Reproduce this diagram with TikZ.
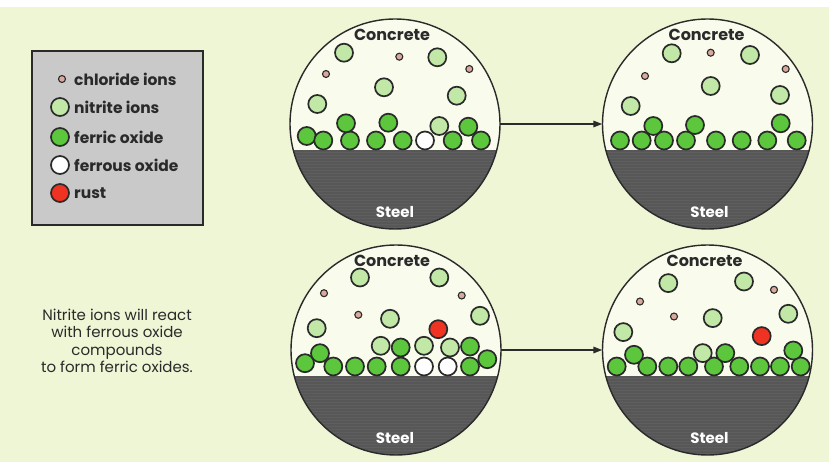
\documentclass[tikz,border=0pt]{standalone}
\usepackage{fontspec}
\setmainfont{Poppins}
\usetikzlibrary{arrows.meta}

\definecolor{paper}{HTML}{EEF6D6}
\definecolor{lens}{HTML}{F9FCEC}
\definecolor{steelgray}{HTML}{575757}
\definecolor{steelline}{HTML}{656565}
\definecolor{ink}{HTML}{2A2A2A}
\definecolor{ferricG}{HTML}{5CC63C}
\definecolor{nitriteG}{HTML}{C2E8A8}
\definecolor{rustR}{HTML}{EE3322}
\definecolor{chlorP}{HTML}{D9A99B}
\definecolor{legendgray}{HTML}{C9C9C9}

\tikzset{
  ball/.style={circle, draw=ink, line width=1.7pt, minimum size=18pt, inner sep=0pt},
  ferric/.style={ball, fill=ferricG},
  nitrite/.style={ball, fill=nitriteG},
  ferrous/.style={ball, fill=white},
  rust/.style={ball, fill=rustR},
  chloride/.style={circle, draw=ink, line width=1.1pt, minimum size=7pt, inner sep=0pt, fill=chlorP},
  lensc/.style={circle, minimum size=210pt, inner sep=0pt, fill=lens},
  rim/.style={draw=ink, line width=1.4pt},
  concrete/.style={font=\fontsize{16}{16}\selectfont\bfseries, text=ink, inner sep=0pt},
  steellbl/.style={font=\fontsize{15}{15}\selectfont\bfseries, text=white, inner sep=0pt},
  legtext/.style={anchor=west, font=\fontsize{15.5}{15.5}\selectfont\bfseries, text=ink, inner sep=0pt},
  caption/.style={align=center, font=\fontsize{15}{17.3}\selectfont, text=ink, inner sep=0pt},
  flow/.style={draw=ink, line width=1.5pt, -{Triangle[length=9pt,width=6.5pt]}},
}

% steel bar clipped to the lens, then the rim on top
\newcommand{\steelcut}[1]{%
  \begin{scope}
    \clip (#1.center) circle[radius=105pt];
    \fill[steelgray] (-110,26) rectangle (110,110);
    \foreach \k in {0,...,26} {\draw[steelline, line width=0.6pt, opacity=0.5] (-110,28+3*\k) -- (110,28+3*\k);}
  \end{scope}
  \draw[rim] (#1.center) circle[radius=105pt];
}

\begin{document}
\begin{tikzpicture}[x=1pt, y=-1pt]
\useasboundingbox (0,0) rectangle (829,462);
\fill[paper] (0,0) rectangle (829,462);
\fill[white] (0,0) rectangle (829,7);

% ---------- legend ----------
\node[draw=ink, line width=2pt, fill=legendgray, minimum width=171pt, minimum height=174pt, inner sep=0pt, anchor=north west] (legend) at (31,50) {};
\node[chloride] (lgc) at (62,79) {};
\node[legtext] (lgct) at (74,79) {chloride ions};
\node[nitrite] (lgn) at (60,107) {};
\node[legtext] (lgnt) at (74,107) {nitrite ions};
\node[ferric] (lgf) at (60,137) {};
\node[legtext] (lgft) at (74,137) {ferric oxide};
\node[ferrous] (lgw) at (60,165) {};
\node[legtext] (lgwt) at (74,165) {ferrous oxide};
\node[rust] (lgr) at (60,193) {};
\node[legtext] (lgrt) at (74,193) {rust};

% ---------- caption ----------
\node[caption] (cap) at (117,341) {Nitrite ions will react\\with ferrous oxide\\compounds\\to form ferric oxides.};

% ---------- top left ----------
\begin{scope}[shift={(395,124)}]
  \node[lensc] (tl) at (0,0) {};
  \steelcut{tl}
  \node[concrete] (tlcon) at (-3,-89) {Concrete};
  \node[steellbl] (tlst) at (0,88) {Steel};
  \foreach \x/\y [count=\i] in {-88.3/12, -71.7/16.5, -45/16.5, -19/16.5, 7.7/16.5, 57.7/16.5, 86/16.5,
                                -49/-0.7, -6.7/-1.3, 73.3/2.7}
    \node[ferric] (tlf\i) at (\x,\y) {};
  \node[ferrous] (tlw1) at (30,16.5) {};
  \foreach \x/\y [count=\i] in {44.3/2, -77.7/-20, -11/-36.7, 61.7/-28.3, -51/-71.3, 42.3/-66.7}
    \node[nitrite] (tln\i) at (\x,\y) {};
  \foreach \x/\y [count=\i] in {-69/-50, 4.3/-67.3, 74.3/-55}
    \node[chloride] (tlc\i) at (\x,\y) {};
\end{scope}

% ---------- top right ----------
\begin{scope}[shift={(707.5,124)}]
  \node[lensc] (tr) at (0,0) {};
  \steelcut{tr}
  \node[concrete] (trcon) at (-1,-89) {Concrete};
  \node[steellbl] (trst) at (2,88) {Steel};
  \foreach \x/\y [count=\i] in {-87.5/16.5, -65.8/16.5, -43.5/16.5, -21.5/16.5, 8.5/16.5, 34.2/16.5, 59.8/16.5, 89.2/16.5,
                                -54.2/2, -12.5/1, 73.2/-0.7}
    \node[ferric] (trf\i) at (\x,\y) {};
  \foreach \x/\y [count=\i] in {-76.8/-18, -35.8/-70.7, 3.2/-38, 42.5/-69, 72.5/-29}
    \node[nitrite] (trn\i) at (\x,\y) {};
  \foreach \x/\y [count=\i] in {-62.5/-48, 3.2/-71.3, 78.2/-55}
    \node[chloride] (trc\i) at (\x,\y) {};
\end{scope}

% ---------- bottom left ----------
\begin{scope}[shift={(396,350)}]
  \node[lensc] (bl) at (0,0) {};
  \steelcut{bl}
  \node[concrete] (blcon) at (-4,-89) {Concrete};
  \node[steellbl] (blst) at (-1,88) {Steel};
  \foreach \x/\y [count=\i] in {-91/13.2, -62.7/16.5, -41/16.5, -19.3/16.5, 4.7/16.5, 74/16.5, 91.3/9.2,
                                -76/3.2, 4.7/-2.5, 74/-3.5}
    \node[ferric] (blf\i) at (\x,\y) {};
  \node[ferrous] (blw1) at (28,16.5) {};
  \node[ferrous] (blw2) at (51.7,16.5) {};
  \foreach \x/\y [count=\i] in {-15.3/-4.2, 28/-4.2, 54/-2.5, -79.3/-21.8, -36/-72.5, -6/-31.2, 43.3/-72.5, 84/-34.2}
    \node[nitrite] (bln\i) at (\x,\y) {};
  \node[rust] (blr1) at (42.3,-20.8) {};
  \foreach \x/\y [count=\i] in {-72/-56.8, -37.7/-35.2, 65.7/-54.5}
    \node[chloride] (blc\i) at (\x,\y) {};
\end{scope}

% ---------- bottom right ----------
\begin{scope}[shift={(707.5,350)}]
  \node[lensc] (br) at (0,0) {};
  \steelcut{br}
  \node[concrete] (brcon) at (-3,-89) {Concrete};
  \node[steellbl] (brst) at (2,88) {Steel};
  \foreach \x/\y [count=\i] in {-90.8/16.5, -60.2/16.5, -39.2/16.5, -19.2/16.5, 6.5/16.5, 31.8/16.5, 52.5/16.5, 72.5/16.5, 93.2/16.5,
                                -73.5/4.8, 17.8/3.1, 85.8/0.5}
    \node[ferric] (brf\i) at (\x,\y) {};
  \foreach \x/\y [count=\i] in {-4.8/3.1, -84.2/-17.9, -39.2/-66.9, 36.5/-68.5, 5.2/-31.9, 80.8/-36.2}
    \node[nitrite] (brn\i) at (\x,\y) {};
  \node[rust] (brr1) at (54.2,-13.9) {};
  \foreach \x/\y [count=\i] in {-67.5/-48.5, -33.5/-33.5, 66.5/-60.2}
    \node[chloride] (brc\i) at (\x,\y) {};
\end{scope}

% ---------- transitions ----------
\draw[flow] (tl) -- (tr);
\draw[flow] (bl) -- (br);
\end{tikzpicture}
\end{document}
